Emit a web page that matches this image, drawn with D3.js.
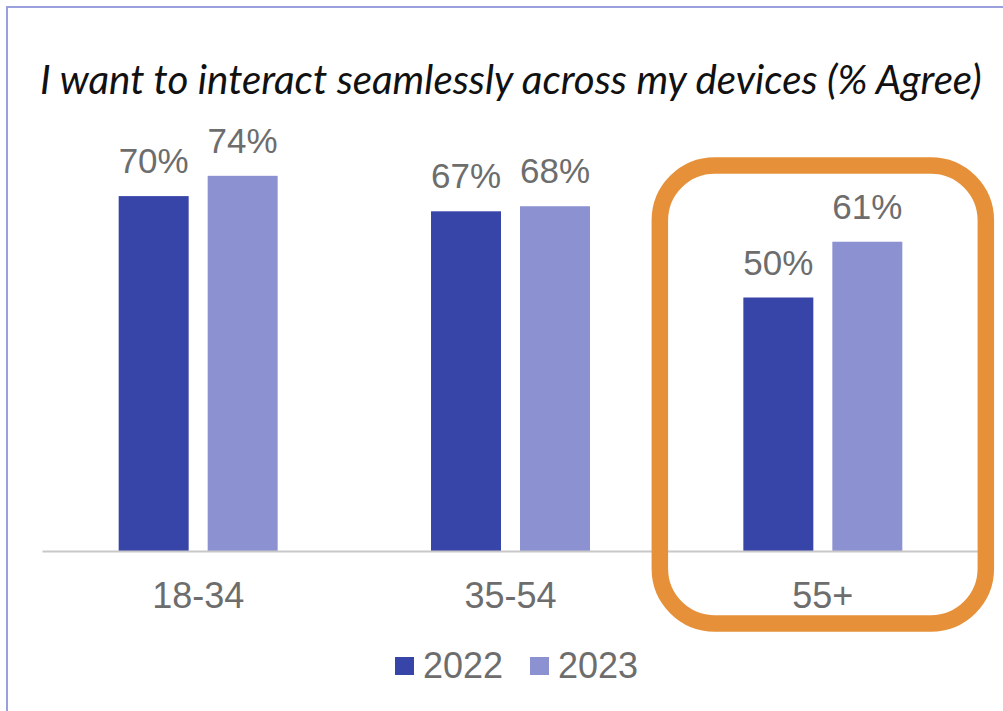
<!DOCTYPE html>
<html>
<head>
<meta charset="utf-8">
<script src="https://cdn.jsdelivr.net/npm/d3@7"></script>
<style>
  html, body { margin: 0; padding: 0; background: #fff; }
  svg { display: block; }
</style>
</head>
<body>
<svg id="chart" width="1003" height="711"></svg>
<script>
// Survey data: share agreeing, by age group and year
const ageGroups = ["18-34", "35-54", "55+"];
const years = ["2022", "2023"];
const agree2022 = [70, 67, 50];
const agree2023 = [74, 68, 61];
const titleText = "I want to interact seamlessly across my devices (% Agree)";
const highlightGroup = "55+";

const colors = { "2022": "#3845a8", "2023": "#8c92d1" };
const textGray = "#6d6d6d";

const rows = ageGroups.map((g, i) => ({
  group: g,
  values: [
    { year: "2022", value: agree2022[i] },
    { year: "2023", value: agree2023[i] }
  ]
}));

const svg = d3.select("#chart");

// outer frame, open on the right and bottom
svg.append("rect")
  .attr("x", 7).attr("y", 7)
  .attr("width", 1010).attr("height", 720)
  .attr("fill", "none")
  .attr("stroke", "#9aa0dc")
  .attr("stroke-width", 2);

const baseline = 551;
const x0 = d3.scaleBand().domain(ageGroups).range([42, 979])
  .paddingInner(0.491).paddingOuter(0.2455);
const x1 = d3.scaleBand().domain(years).range([0, x0.bandwidth()])
  .paddingInner(0.2135).paddingOuter(0);
const y = d3.scaleLinear().domain([0, 100]).range([baseline, 44]);

// title, fitted to the available width
const title = svg.append("text")
  .attr("x", 40).attr("y", 94)
  .attr("font-family", "Lato, 'Open Sans', sans-serif")
  .attr("font-style", "italic")
  .attr("font-size", 33)
  .attr("fill", "#111")
  .text(titleText);
const tw = title.node().getComputedTextLength();
title.attr("font-size", 33 * 942 / tw);

// bars
const groups = svg.append("g").selectAll("g")
  .data(rows).join("g")
  .attr("transform", d => `translate(${x0(d.group)},0)`);

groups.selectAll("rect")
  .data(d => d.values).join("rect")
  .attr("x", d => x1(d.year))
  .attr("y", d => y(d.value))
  .attr("width", x1.bandwidth())
  .attr("height", d => baseline - y(d.value))
  .attr("fill", d => colors[d.year]);

groups.selectAll("text")
  .data(d => d.values).join("text")
  .attr("x", d => x1(d.year) + x1.bandwidth() / 2)
  .attr("y", d => y(d.value) - 23)
  .attr("text-anchor", "middle")
  .attr("font-family", "'Liberation Sans', Arial, sans-serif")
  .attr("font-size", 35)
  .attr("fill", textGray)
  .text(d => d.value + "%");

// category axis
const axis = svg.append("g")
  .attr("transform", `translate(0,${baseline})`)
  .call(d3.axisBottom(x0).tickSize(0).tickSizeOuter(0).tickPadding(31));
axis.select(".domain").attr("stroke", "#c8c8c8").attr("stroke-width", 2);
axis.selectAll(".tick text")
  .attr("font-family", "'Liberation Sans', Arial, sans-serif")
  .attr("font-size", 36)
  .attr("fill", textGray);

// highlight around the oldest age group
const hx = x0(highlightGroup) + x0.bandwidth() / 2;
svg.append("rect")
  .attr("x", hx - 163).attr("y", 165.5)
  .attr("width", 326).attr("height", 458)
  .attr("rx", 55).attr("ry", 55)
  .attr("fill", "none")
  .attr("stroke", "#e6913a")
  .attr("stroke-width", 16.5);

// legend
const legendX = [395, 530];
const legend = svg.append("g").selectAll("g")
  .data(years).join("g")
  .attr("transform", (d, i) => `translate(${legendX[i]},657)`);
legend.append("rect")
  .attr("width", 19).attr("height", 18)
  .attr("fill", d => colors[d]);
legend.append("text")
  .attr("x", 28).attr("y", 21)
  .attr("font-family", "'Liberation Sans', Arial, sans-serif")
  .attr("font-size", 36)
  .attr("fill", textGray)
  .text(d => d);
</script>
</body>
</html>
